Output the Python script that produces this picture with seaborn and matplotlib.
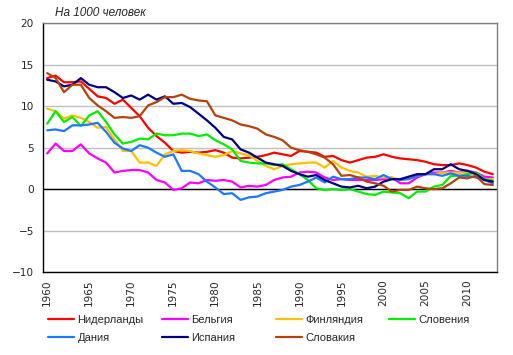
import matplotlib
matplotlib.use('Agg')
import matplotlib.pyplot as plt
import seaborn as sns
import pandas as pd

years = list(range(1960, 2014))

netherlands = [13.4, 13.7, 12.9, 12.9, 13.0, 12.1, 11.2, 11.0, 10.3, 10.8,
               9.8, 8.8, 7.4, 6.4, 5.6, 4.6, 4.4, 4.5, 4.4, 4.5,
               4.7, 4.4, 3.8, 3.7, 3.8, 3.9, 4.1, 4.4, 4.2, 4.0,
               4.6, 4.5, 4.4, 3.9, 4.0, 3.5, 3.2, 3.5, 3.8, 3.9,
               4.2, 3.9, 3.7, 3.6, 3.5, 3.3, 3.0, 2.9, 2.9, 3.1,
               2.9, 2.6, 2.1, 1.8]
belgium = [4.3, 5.5, 4.6, 4.6, 5.4, 4.3, 3.7, 3.2, 2.0, 2.2,
           2.3, 2.3, 2.0, 1.1, 0.8, -0.1, 0.1, 0.8, 0.7, 1.1,
           1.0, 1.1, 0.9, 0.2, 0.4, 0.3, 0.5, 1.1, 1.4, 1.5,
           2.0, 2.1, 2.0, 1.4, 1.1, 1.2, 1.1, 1.1, 1.1, 1.1,
           1.2, 1.4, 0.7, 0.7, 1.4, 1.8, 2.0, 2.0, 2.2, 2.0,
           2.2, 2.0, 1.5, 1.4]
finland = [9.7, 9.4, 8.5, 8.9, 8.6, 8.1, 7.4, 7.5, 6.0, 4.6,
           4.6, 3.2, 3.2, 2.8, 4.2, 4.6, 4.7, 4.6, 4.3, 4.1,
           3.9, 4.1, 4.6, 4.3, 4.1, 3.4, 2.8, 2.4, 2.8, 3.0,
           3.1, 3.2, 3.2, 2.6, 3.4, 2.6, 2.2, 2.0, 1.5, 1.6,
           1.4, 1.4, 1.1, 1.3, 1.6, 1.8, 1.8, 2.0, 2.0, 2.0,
           2.0, 1.8, 1.2, 1.2]
slovenia = [7.9, 9.4, 8.1, 8.7, 7.6, 8.9, 9.4, 8.1, 6.6, 5.5,
            5.7, 6.1, 6.0, 6.7, 6.5, 6.5, 6.7, 6.7, 6.4, 6.6,
            5.9, 5.4, 4.8, 3.4, 3.2, 3.1, 3.1, 2.9, 3.0, 2.4,
            1.8, 1.1, 0.1, -0.1, 0.0, -0.1, 0.0, -0.3, -0.6, -0.7,
            -0.3, -0.4, -0.5, -1.1, -0.3, -0.3, 0.3, 0.5, 1.6, 1.6,
            1.8, 2.0, 1.2, 1.0]
denmark = [7.1, 7.2, 7.0, 7.7, 7.7, 7.8, 8.0, 6.9, 5.6, 4.9,
           4.6, 5.3, 5.0, 4.4, 3.9, 4.2, 2.2, 2.2, 1.8, 0.9,
           0.2, -0.6, -0.5, -1.3, -1.0, -0.9, -0.5, -0.3, -0.1, 0.3,
           0.5, 0.9, 1.4, 0.8, 1.5, 1.2, 1.2, 1.4, 1.4, 1.2,
           1.7, 1.2, 1.1, 1.2, 1.6, 1.8, 1.8, 1.6, 1.9, 1.6,
           1.6, 1.4, 1.1, 0.7]
spain = [13.2, 13.0, 12.4, 12.6, 13.4, 12.6, 12.3, 12.3, 11.7, 11.0,
         11.3, 10.8, 11.4, 10.8, 11.2, 10.3, 10.4, 9.9, 9.1, 8.3,
         7.4, 6.3, 6.0, 4.8, 4.4, 3.8, 3.2, 3.0, 2.8, 2.2,
         1.8, 1.5, 1.7, 1.1, 0.7, 0.3, 0.2, 0.4, 0.1, 0.3,
         0.9, 1.2, 1.2, 1.5, 1.8, 1.8, 2.4, 2.4, 3.0, 2.4,
         2.2, 1.8, 1.1, 0.9]
slovakia = [14.0, 13.4, 11.7, 12.6, 12.6, 11.0, 10.1, 9.4, 8.6, 8.7,
            8.6, 8.8, 10.1, 10.5, 11.1, 11.1, 11.4, 10.9, 10.7, 10.6,
            8.9, 8.6, 8.3, 7.8, 7.6, 7.3, 6.6, 6.3, 5.9, 5.0,
            4.7, 4.5, 4.2, 3.8, 3.0, 1.6, 1.7, 1.4, 0.9, 0.7,
            0.4, -0.3, -0.1, -0.1, 0.3, 0.1, 0.0, 0.1, 0.7, 1.4,
            1.3, 1.6, 0.6, 0.5]

countries = ['Нидерланды', 'Бельгия', 'Финляндия', 'Словения',
             'Дания', 'Испания', 'Словакия']
series = [netherlands, belgium, finland, slovenia, denmark, spain, slovakia]
colors = ['#FF0000', '#FF00FF', '#FFC000', '#00EE00',
          '#1E78FF', '#000080', '#B4420A']

df = pd.concat([pd.DataFrame({'year': years, 'value': s, 'country': c})
                for c, s in zip(countries, series)], ignore_index=True)

sns.set_style('white')
plt.rcParams['font.family'] = ['Liberation Sans', 'DejaVu Sans']

fig = plt.figure(figsize=(5.13, 3.55), dpi=100)
ax = fig.add_axes([0.0838, 0.234, 0.885, 0.700])

for c, col in zip(countries, colors):
    sns.lineplot(data=df[df['country'] == c], x='year', y='value',
                 color=col, linewidth=1.6, label=c, ax=ax)

ax.set_xlim(1959.5, 2013.5)
ax.set_ylim(-10, 20)
ax.set_yticks(range(-10, 21, 5))
ax.set_xticks(range(1960, 2011, 5))
ax.tick_params(axis='y', length=0, pad=6.5)
ax.tick_params(axis='x', length=0, pad=5.5, labelrotation=90)
for lab in ax.get_xticklabels() + ax.get_yticklabels():
    lab.set_fontfamily('DejaVu Sans')
    lab.set_fontsize(7.6)
ax.yaxis.grid(True, color='#BFBFBF', linewidth=1)
ax.set_axisbelow(True)
ax.axhline(0, color='black', linewidth=1, zorder=1.5)
ax.set_xlabel('')
ax.set_ylabel('')

for side in ['top', 'right']:
    ax.spines[side].set_color('#808080')
for side in ['left', 'bottom']:
    ax.spines[side].set_color('black')
for sp in ax.spines.values():
    sp.set_linewidth(1)

fig.text(0.107, 0.964, 'На 1000 человек', fontsize=8.5, style='italic',
         va='center', ha='left')

handles, labels = ax.get_legend_handles_labels()
hmap = dict(zip(labels, handles))
ax.get_legend().remove()

# legend: four fixed-width columns, two rows
columns = [['Нидерланды', 'Дания'], ['Бельгия', 'Испания'],
           ['Финляндия', 'Словакия'], ['Словения']]
col_x = [48, 162, 276, 389]
for names, x in zip(columns, col_x):
    fig.legend([hmap[n] for n in names], names, frameon=False, fontsize=8,
               loc='upper left', bbox_to_anchor=(x / 513, 1 - 315 / 355),
               borderpad=0, borderaxespad=0, handlelength=2.35,
               handletextpad=0.3, labelspacing=0.72)

fig.savefig('out.png', dpi=100)
